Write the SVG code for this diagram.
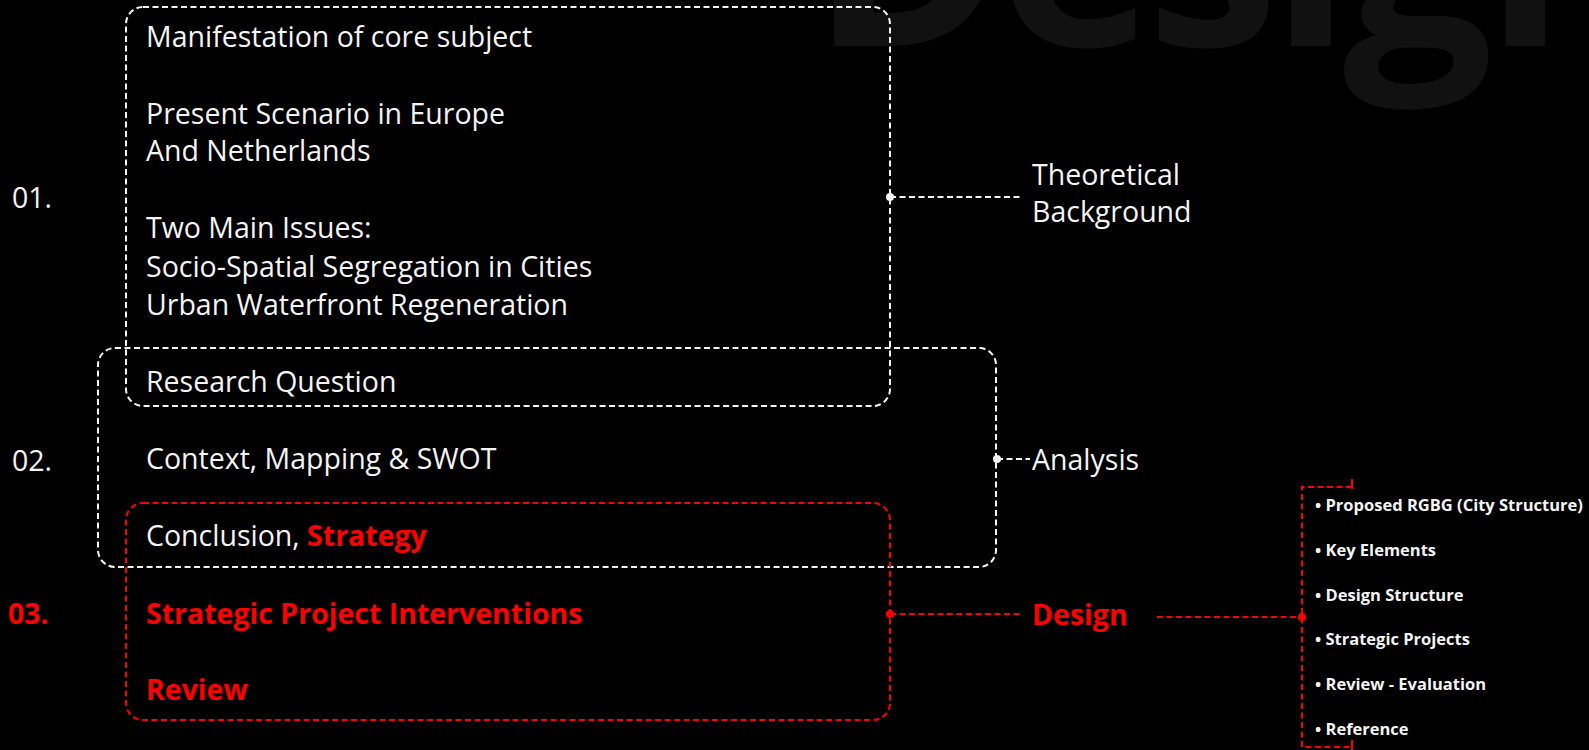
<svg xmlns="http://www.w3.org/2000/svg" width="1589" height="750" viewBox="0 0 1589 750">
<style>
.bg{fill:#000}
.wm{font-family:"Open Sans","Liberation Sans",sans-serif;font-weight:700;font-size:265px;letter-spacing:-8px;fill:#111111}
.t{font-family:"Open Sans","Liberation Sans",sans-serif;font-size:28.5px;fill:#f4f4f4}
.tb{font-family:"Open Sans","Liberation Sans",sans-serif;font-size:28.5px;font-weight:700;fill:#ff0000}
.li{font-family:"Open Sans","Liberation Sans",sans-serif;font-size:16.5px;font-weight:700;fill:#f4f4f4}
.bw{fill:none;stroke:#f4f4f4;stroke-width:2;stroke-dasharray:6 3.5}
.br{fill:none;stroke:#ff0000;stroke-width:2;stroke-dasharray:6 3.5}
.dw{fill:#f4f4f4}
.dr{fill:#ff0000}
</style>
<rect class="bg" x="0" y="0" width="1589" height="750"/>
<text class="wm" x="810" y="46">Design</text>

<g id="box-theoretical">
<rect class="bw" x="126" y="7" width="764" height="399" rx="17"/>
<text class="t" x="146" y="47">Manifestation of core subject</text>
<text class="t" x="146" y="124">Present Scenario in Europe</text>
<text class="t" x="146" y="161">And Netherlands</text>
<text class="t" x="146" y="238">Two Main Issues:</text>
<text class="t" x="146" y="277">Socio-Spatial Segregation in Cities</text>
<text class="t" x="146" y="315">Urban Waterfront Regeneration</text>
<text class="t" x="146" y="392">Research Question</text>
</g>

<g id="box-analysis">
<rect class="bw" x="98" y="348" width="898" height="219" rx="17"/>
<text class="t" x="146" y="469">Context, Mapping &amp; SWOT</text>
<text class="t" x="146" y="546">Conclusion, <tspan class="tb">Strategy</tspan></text>
</g>

<g id="box-design">
<rect class="br" x="126" y="503" width="764" height="217" rx="17"/>
<text class="tb" x="146" y="624">Strategic Project Interventions</text>
<text class="tb" x="146" y="700">Review</text>
</g>

<g id="numbers">
<text class="t" x="12" y="208">01.</text>
<text class="t" x="12" y="471">02.</text>
<text class="tb" x="8" y="624">03.</text>
</g>

<g id="label-theoretical">
<text class="t" x="1032" y="185">Theoretical</text>
<text class="t" x="1032" y="222">Background</text>
</g>
<g id="label-analysis">
<text class="t" x="1032" y="470">Analysis</text>
</g>
<g id="label-design">
<text class="tb" x="1032" y="625">Design</text>
</g>

<g id="design-list">
<text class="li" x="1315" y="511">• Proposed RGBG (City Structure)</text>
<text class="li" x="1315" y="556">• Key Elements</text>
<text class="li" x="1315" y="601">• Design Structure</text>
<text class="li" x="1315" y="645">• Strategic Projects</text>
<text class="li" x="1315" y="690">• Review - Evaluation</text>
<text class="li" x="1315" y="735">• Reference</text>
</g>

<g id="connectors">
<line class="bw" x1="890" y1="197" x2="1023" y2="197"/>
<circle class="dw" cx="890" cy="197" r="4"/>
<line class="bw" x1="997" y1="459" x2="1030" y2="459"/>
<circle class="dw" cx="997" cy="459" r="4"/>
<line class="br" x1="890" y1="614" x2="1023" y2="614"/>
<circle class="dr" cx="890" cy="614" r="4"/>
<line class="br" x1="1157" y1="617" x2="1302" y2="617"/>
<circle class="dr" cx="1302" cy="617" r="4"/>
<path class="br" d="M1352 487 H1302 V747 H1352"/>
<line x1="1352" y1="479" x2="1352" y2="489" stroke="#ff0000" stroke-width="2"/>
<line x1="1352" y1="740" x2="1352" y2="750" stroke="#ff0000" stroke-width="2"/>
</g>
</svg>
